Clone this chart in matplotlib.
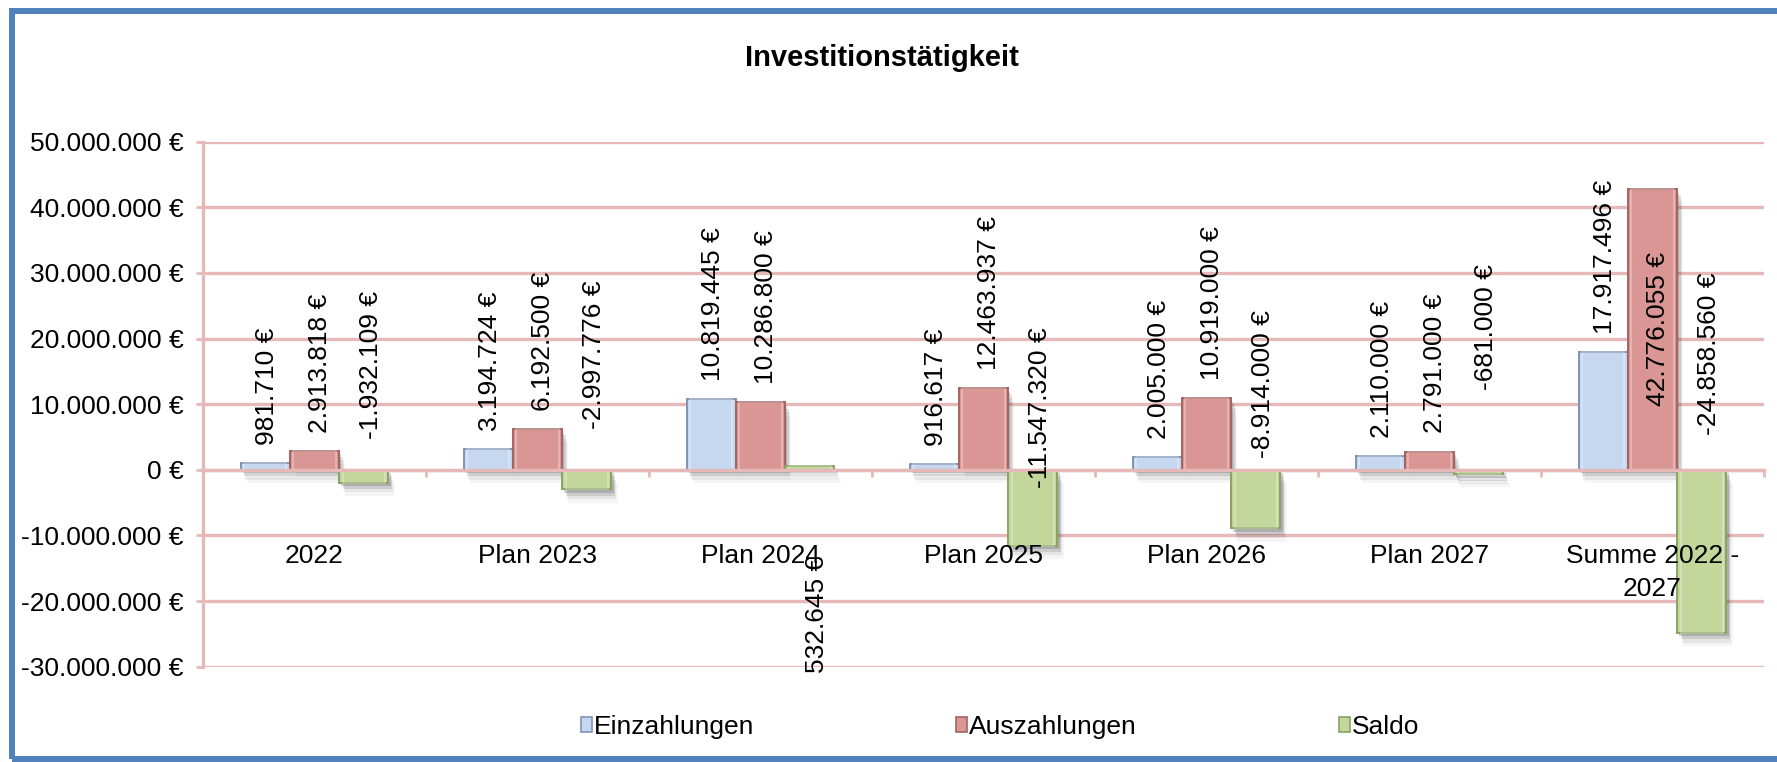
import matplotlib
matplotlib.use('Agg')
import matplotlib.pyplot as plt
from matplotlib.patches import Rectangle
import matplotlib.patheffects as pe
import numpy as np

plt.rcParams['font.family'] = ['Liberation Sans', 'DejaVu Sans']

# ---------------- data ----------------
categories = ['2022', 'Plan 2023', 'Plan 2024', 'Plan 2025', 'Plan 2026',
              'Plan 2027', 'Summe 2022 -\n2027']
einzahlungen = [981710, 3194724, 10819445, 916617, 2005000, 2110000, 17917496]
auszahlungen = [2913818, 6192500, 10286800, 12463937, 10919000, 2791000, 42776055]
saldo = [-1932109, -2997776, 532645, -11547320, -8914000, -681000, -24858560]
series_names = ['Einzahlungen', 'Auszahlungen', 'Saldo']
title = 'Investitionstätigkeit'
# where the (manually placed) Saldo labels start, in euros on the value axis
saldo_label_base = [4.7e6, 6.2e6, -31.0e6, -2.8e6, 1.8e6, 12.2e6, 5.3e6]

# ---------------- style ----------------
face = ['#c6d8f0', '#d99694', '#c3d69b']
edge = ['#7f94b4', '#a46462', '#8aa262']
grid_c = '#e6b9b8'
FS = 19
label_dx = [1.5, 4.0, 5.0]   # points, horizontal nudge of value labels per series


def eur(v):
    return f"{v:,.0f}".replace(',', '.') + " €"


W, H = 1777, 762
fig = plt.figure(figsize=(W / 100, H / 100), dpi=100)
L, R, T, B = 203, 1764, 141.7, 666.7
ax = fig.add_axes([L / W, 1 - B / H, (R - L) / W, (B - T) / H])
ax.set_xlim(-0.5, 6.5)
ax.set_ylim(-30e6, 50e6)

ax.set_yticks(np.arange(-30e6, 50e6 + 1, 10e6))
ax.yaxis.set_major_formatter(matplotlib.ticker.FuncFormatter(lambda v, p: eur(v)))
ax.grid(axis='y', color=grid_c, lw=2.4)
ax.set_axisbelow(True)
for s in ['top', 'right']:
    ax.spines[s].set_visible(False)
ax.spines['left'].set_color(grid_c)
ax.spines['left'].set_linewidth(2.4)
ax.spines['bottom'].set_position(('data', 0))
ax.spines['bottom'].set_color(grid_c)
ax.spines['bottom'].set_linewidth(2.4)
ax.spines['bottom'].set_zorder(6)
ax.tick_params(axis='y', direction='out', length=5, width=2, color=grid_c,
               pad=9, labelsize=FS)
ax.set_xticks(np.arange(-0.5, 7, 1))
ax.set_xticklabels([])
ax.tick_params(axis='x', direction='out', length=5, width=2, color=grid_c)

x = np.arange(len(categories))
bw = 0.221
shadow = [pe.SimplePatchShadow(offset=(1.5, -2.5), shadow_rgbFace='#444444', alpha=0.22),
          pe.SimplePatchShadow(offset=(2.5, -4.5), shadow_rgbFace='#444444', alpha=0.15),
          pe.SimplePatchShadow(offset=(3.5, -7), shadow_rgbFace='#444444', alpha=0.09),
          pe.SimplePatchShadow(offset=(4.5, -9.5), shadow_rgbFace='#444444', alpha=0.05),
          pe.Normal()]

all_series = [einzahlungen, auszahlungen, saldo]
for k, vals in enumerate(all_series):
    bars = ax.bar(x + (k - 1) * bw, vals, width=bw, color=face[k],
                  edgecolor=edge[k], lw=1.4, zorder=3, label=series_names[k])
    for p in bars:
        p.set_path_effects(shadow)
    # inner highlight for a bevelled look
    ax.bar(x + (k - 1) * bw, vals, width=bw * 0.86, color='none',
           edgecolor='white', lw=1.2, alpha=0.35, zorder=4)

# value labels
for k, vals in enumerate([einzahlungen, auszahlungen]):
    for i, v in enumerate(vals):
        xx = x[i] + (k - 1) * bw
        if v + 27e6 > 50e6:
            ax.annotate(eur(v), (xx, v / 2), xytext=(label_dx[k], 0),
                        textcoords='offset points', rotation=90, ha='center',
                        va='center', fontsize=FS, zorder=7)
        else:
            ax.annotate(eur(v), (xx, v), xytext=(label_dx[k], 13),
                        textcoords='offset points', rotation=90, ha='center',
                        va='bottom', fontsize=FS, zorder=7)
for i, v in enumerate(saldo):
    ax.annotate(eur(v), (x[i] + bw, saldo_label_base[i]), xytext=(label_dx[2], 0),
                textcoords='offset points', rotation=90, ha='center',
                va='bottom', fontsize=FS, zorder=7, annotation_clip=False)

# category labels
for i, c in enumerate(categories):
    ax.text(x[i], -11.3e6, c, ha='center', va='top', fontsize=FS,
            multialignment='center', linespacing=1.45, zorder=7, clip_on=False)

# legend
handles = [Rectangle((0, 0), 1, 1, facecolor=face[k], edgecolor=edge[k], lw=1.2)
           for k in range(3)]
fig.legend(handles, series_names, loc='center', bbox_to_anchor=(1000 / W, 1 - 727 / H),
           ncol=3, frameon=False, fontsize=FS, handlelength=0.42, handleheight=0.5,
           handletextpad=0.08, columnspacing=7.65)

fig.text(882 / W, 1 - 58 / H, title, ha='center', va='center', fontsize=21,
         fontweight='bold')

fig.add_artist(Rectangle((12 / W, 1 - 759 / H), (1800 - 12) / W, (759 - 11) / H,
                         transform=fig.transFigure, fill=False, edgecolor='#4f81bd',
                         lw=4.3, clip_on=False))

fig.savefig('out.png', dpi=100)
